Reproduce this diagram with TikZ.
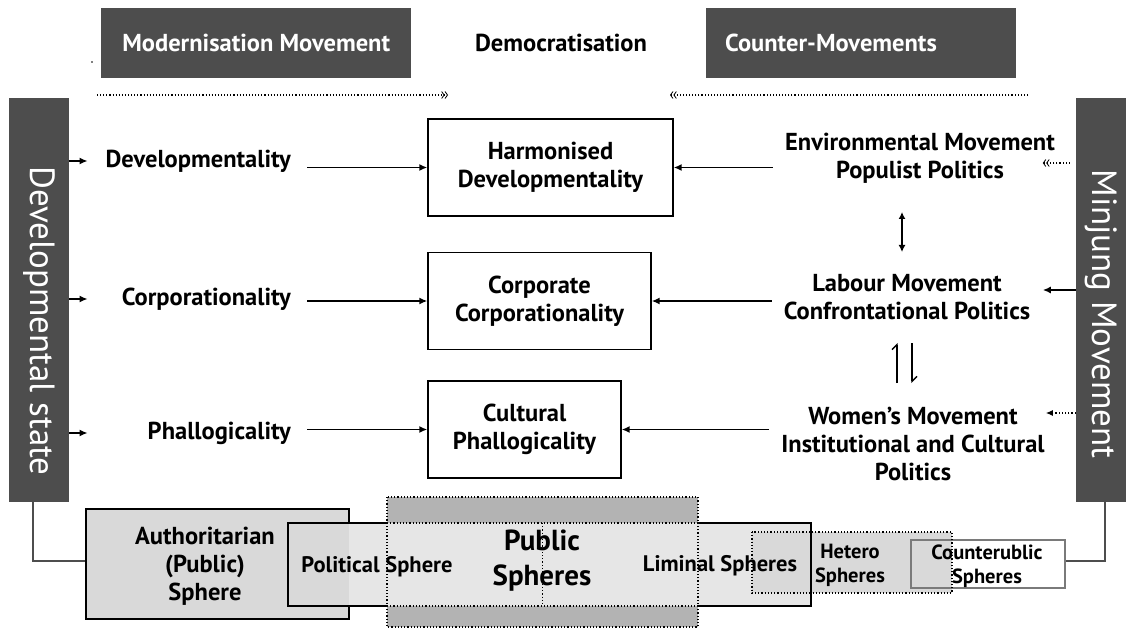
\documentclass[tikz,border=0pt]{standalone}
\usepackage{fontspec}
\setmainfont{PT Sans}
\usetikzlibrary{arrows.meta}

\definecolor{bandgrey}{HTML}{4D4D4D}
\definecolor{palegrey}{HTML}{E6E6E6}
\definecolor{softgrey}{HTML}{D9D9D9}
\definecolor{deepgrey}{HTML}{B3B3B3}
\definecolor{edgegrey}{HTML}{7A7A7A}

\def\txtsize{\fontsize{24.5}{28}\selectfont}
\def\midsize{\fontsize{22.5}{28}\selectfont}
\def\smallsize{\fontsize{20.5}{24}\selectfont}
\def\bigsize{\fontsize{29}{35}\selectfont}

\tikzset{
 txt/.style={font=\txtsize\bfseries, align=center, inner sep=0pt},
 banner/.style={fill=bandgrey, text=white, font=\txtsize\bfseries, minimum height=70, inner sep=0pt},
 sidebar/.style={fill=bandgrey, minimum height=404, inner sep=0pt},
 sidetext/.style={text=white, font=\fontsize{35}{35}\selectfont, rotate=-90, inner sep=0pt},
 mixbox/.style={txt, draw, line width=1.4pt, minimum height=97},
 feed/.style={line width=1.5pt, -{Latex[length=8pt,width=7pt]}},
 hint/.style={dotted, line width=1.2pt, -{Latex[length=7pt,width=6pt]}},
 drift/.style={dotted, line width=1.1pt,
  -{Straight Barb[length=2.5pt,width=7pt,line width=.8pt] Straight Barb[length=2.5pt,width=7pt,line width=.8pt]}},
 link/.style={line width=1.8pt, draw=bandgrey},
 sphere/.style={inner sep=0pt, outer sep=0pt}
}

\begin{document}
\begin{tikzpicture}[x=1pt,y=-1pt]
 \useasboundingbox (0,0) rectangle (1129,628);

 % Banners along the top
 \node[banner, minimum width=310, anchor=north west] (modern) at (101,8) {Modernisation Movement};
 \node[txt] (democ) at (561,43) {Democratisation};
 \node[banner, minimum width=310, text width=272, inner xsep=19, align=left, anchor=north west]
  (countermv) at (706,8) {Counter-Movements};
 \fill (92,62) circle (0.9);
 \coordinate (modstart) at (97,95);
 \coordinate (modend) at (448,95);
 \coordinate (cmstart) at (1028,95);
 \coordinate (cmend) at (670,95);
 \draw[drift] (modstart) -- (modend);
 \draw[drift] (cmstart) -- (cmend);

 % Side bars
 \node[sidebar, minimum width=60] (statebar) at (39,300) {};
 \node[sidetext] (statetext) at (39,321) {Developmental state};
 \node[sidebar, minimum width=50] (minbar) at (1101,300) {};
 \node[sidetext] (mintext) at (1101,314) {Minjung Movement};

 % Logics of the state
 \foreach \name/\word/\y in {dev/Developmentality/161, corp/Corporationality/299, phal/Phallogicality/433}
  \node[txt, anchor=east, text width=195, align=right] (\name) at (291,\y) {\word};
 \foreach \name in {dev,corp,phal}
  \draw[feed] (statebar.east |- \name.west) -- ([xshift=-8]\name.west);

 % Combined logics
 \node[mixbox, minimum width=245] (harm) at (550.5,167.5) {Harmonised\\Developmentality};
 \node[mixbox, minimum width=223] (corpbox) at (539.5,301) {Corporate\\Corporationality};
 \node[mixbox, minimum width=193] (cult) at (524.5,429.5) {Cultural\\Phallogicality};
 \draw[feed] ([xshift=16]dev.east |- harm.west) -- (harm.west);
 \draw[feed] ([xshift=16]corp.east |- corpbox.west) -- (corpbox.west);
 \draw[feed] ([xshift=16]phal.east |- cult.west) -- (cult.west);

 % Movements
 \node[txt] (env) at (920,158) {Environmental Movement\\Populist Politics};
 \node[txt] (lab) at (907,297) {Labour Movement\\Confrontational Politics};
 \node[txt] (wom) at (913,444) {Women's Movement\\Institutional and Cultural\\Politics};
 \draw[feed] ([xshift=-12]env.west |- harm.east) -- (harm.east);
 \draw[feed] ([xshift=-12]lab.west |- corpbox.east) -- (corpbox.east);
 \draw[feed] ([xshift=-12]wom.west |- cult.east) -- (cult.east);
 \draw[drift] ([xshift=-6,yshift=-5]minbar.west |- env.center) -- ++(-27,0);
 \draw[feed] ([yshift=7]minbar.west |- lab.center) -- ++(-33,0);
 \draw[hint] ([yshift=31]minbar.west |- wom.center) -- ++(-30,0);

 % Links between movements
 \coordinate (envlow) at (902,212);
 \coordinate (labhigh) at (902,252);
 \draw[line width=1.4pt, {Latex[length=7pt,width=7pt]}-{Latex[length=7pt,width=7pt]}] (envlow) -- (labhigh);
 \coordinate (uptip) at (897,343);
 \coordinate (upfoot) at (897,383);
 \coordinate (downfoot) at (912,343);
 \coordinate (downtip) at (912,383);
 \draw[line width=1.4pt, -{Straight Barb[harpoon,length=5pt,width=10pt]}] (upfoot) -- (uptip);
 \draw[line width=1.4pt, -{Straight Barb[harpoon,length=5pt,width=10pt]}] (downfoot) -- (downtip);

 % Spheres along the bottom
 \draw[link] ([xshift=-6]statebar.south) |- (217.5,561) coordinate (authin);
 \draw[link] ([xshift=4]minbar.south) |- (988,561) coordinate (cpubin);
 \node[sphere, fill=softgrey, draw, line width=1.5pt, minimum width=263, minimum height=110] (auth) at (217.5,564) {};
 \node[sphere, fill=palegrey, minimum width=523, minimum height=83] (polit) at (549.5,564.5) {};
 \fill[softgrey] (polit.north west) rectangle (auth.east |- polit.south);
 \node[sphere, fill=white, minimum width=154, minimum height=48] (cpub) at (988,564) {};
 \node[sphere, fill=softgrey, minimum width=200, minimum height=61] (hetero) at (852,562.5) {};
 \draw[line width=1.5pt] (polit.north west) rectangle (polit.south east);
 \draw[edgegrey, line width=1.5pt] (cpub.north west) rectangle (cpub.south east);
 \draw[dotted, line width=1.2pt] (hetero.north west) rectangle (hetero.south east);
 % Public band
 \node[sphere, fill=deepgrey, minimum width=311, minimum height=130] (pub) at (542.5,562) {};
 \fill[palegrey] (pub.west |- polit.north) rectangle (pub.east |- polit.south);
 \draw[dotted, line width=1.2pt] (pub.north west) rectangle (pub.south east);
 \draw[dotted, line width=1.2pt] (pub.west |- polit.north) -- (pub.east |- polit.north);
 \draw[dotted, line width=1.2pt] (pub.west |- polit.south) -- (pub.east |- polit.south);
 \draw[dotted, line width=1.2pt] (pub.center |- polit.north) -- (pub.center |- polit.south);

 % Sphere names
 \node[txt] (authtext) at (205,566) {Authoritarian\\(Public)\\Sphere};
 \node[txt, font=\midsize\bfseries] (polittext) at (377,567) {Political Sphere};
 \node[txt, font=\bigsize\bfseries] (pubtext) at (542,561) {Public\\Spheres};
 \node[txt, font=\midsize\bfseries] (limtext) at (720,566) {Liminal Spheres};
 \node[txt, font=\smallsize\bfseries] (heterotext) at (850,565) {Hetero\\Spheres};
 \node[txt, font=\smallsize\bfseries] (cpubtext) at (987,566) {Counterublic\\Spheres};
\end{tikzpicture}
\end{document}
